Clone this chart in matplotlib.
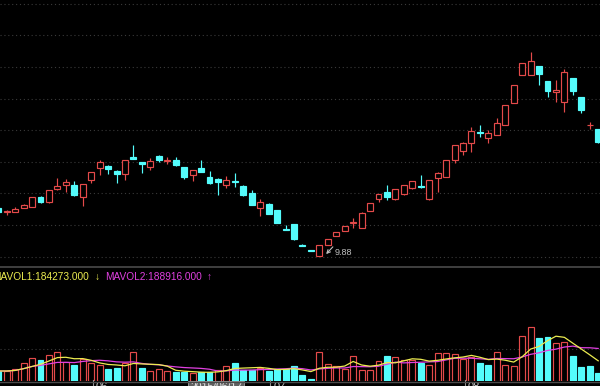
import numpy as np
import pandas as pd
import matplotlib
matplotlib.use("Agg")
import matplotlib.pyplot as plt
from matplotlib import transforms

# ---------------- data ----------------
opens = [11.41, 11.26, 11.27, 11.40, 11.44, 11.74, 11.58, 11.99, 12.13, 12.13,
         11.76, 12.29, 12.65, 12.74, 12.57, 12.49, 13.00, 12.85, 12.70, 13.06,
         12.90, 12.93, 12.69, 12.44, 12.66, 12.39, 12.33, 12.13, 12.24, 12.08,
         11.87, 11.40, 11.54, 11.34, 10.72, 10.88, 10.24, 10.06, 9.88, 10.23,
         10.52, 10.67, 10.91, 10.78, 11.30, 11.68, 11.89, 11.67, 11.83, 12.02,
         12.10, 11.67, 12.34, 12.39, 12.92, 13.21, 13.47, 13.80, 13.60, 13.71,
         14.03, 14.72, 15.61, 15.61, 15.89, 15.42, 15.07, 14.75, 15.51, 14.91,
         14.01, 13.90]
highs = [11.43, 11.34, 11.43, 11.54, 11.75, 11.79, 11.98, 12.34, 12.31, 12.25,
         12.16, 12.55, 12.92, 12.76, 12.59, 12.93, 13.39, 12.85, 12.98, 13.08,
         13.01, 13.01, 12.70, 12.61, 12.92, 12.58, 12.34, 12.40, 12.51, 12.13,
         11.98, 11.67, 11.56, 11.35, 10.85, 10.89, 10.25, 10.07, 10.23, 10.42,
         10.64, 10.84, 11.07, 11.26, 11.56, 11.85, 12.13, 12.00, 12.14, 12.26,
         12.44, 12.30, 12.53, 12.93, 13.40, 13.48, 13.97, 14.03, 13.87, 14.24,
         14.67, 15.30, 16.00, 16.34, 15.90, 15.43, 15.45, 15.80, 15.52, 14.92,
         14.12, 13.91]
lows = [11.24, 11.18, 11.26, 11.39, 11.43, 11.55, 11.56, 11.97, 11.91, 11.79,
        11.46, 12.18, 12.44, 12.49, 12.19, 12.30, 12.94, 12.51, 12.60, 12.85,
        12.78, 12.74, 12.33, 12.25, 12.54, 12.17, 11.81, 12.02, 12.06, 11.79,
        11.48, 11.16, 11.21, 10.92, 10.69, 10.39, 10.21, 10.03, 9.88, 10.22,
        10.51, 10.66, 10.76, 10.77, 11.29, 11.60, 11.64, 11.66, 11.82, 12.01,
        12.04, 11.66, 11.91, 12.38, 12.82, 13.08, 13.18, 13.66, 13.45, 13.70,
        14.02, 14.71, 15.60, 15.60, 15.29, 14.91, 14.75, 14.44, 14.98, 14.41,
        13.90, 13.47]
closes = [11.26, 11.29, 11.38, 11.48, 11.74, 11.60, 11.97, 12.10, 12.23, 11.81,
          12.15, 12.53, 12.84, 12.62, 12.49, 12.92, 12.95, 12.79, 12.89, 12.92,
          12.93, 12.76, 12.39, 12.60, 12.55, 12.18, 12.22, 12.29, 12.21, 11.81,
          11.49, 11.59, 11.22, 10.93, 10.69, 10.42, 10.21, 10.03, 10.23, 10.41,
          10.63, 10.83, 10.97, 11.25, 11.55, 11.84, 11.76, 11.99, 12.13, 12.25,
          12.05, 12.29, 12.52, 12.92, 13.39, 13.47, 13.85, 13.77, 13.76, 14.08,
          14.66, 15.29, 15.99, 16.05, 15.64, 15.10, 15.13, 15.70, 15.10, 14.50,
          14.04, 13.49]
volumes = [100000, 100000, 117000, 177000, 233000, 210000, 263000, 287000, 193000, 160000,
           217000, 177000, 157000, 117000, 133000, 177000, 293000, 133000, 100000, 117000,
           100000, 87000, 87000, 77000, 90000, 93000, 110000, 150000, 183000, 110000,
           110000, 127000, 103000, 120000, 120000, 150000, 60000, 20000, 287000, 170000,
           153000, 117000, 250000, 110000, 110000, 203000, 250000, 237000, 210000, 210000,
           177000, 160000, 277000, 277000, 267000, 217000, 243000, 183000, 160000, 293000,
           160000, 150000, 450000, 543000, 427000, 443000, 377000, 393000, 250000, 137000,
           153000, 77000]
month_labels = ["06", "07", "08"]
month_index = [11, 32, 55]
cursor_date = "2015/06/17"
cursor_index = 23
mavol_texts = ["MAVOL1:184273.000", "MAVOL2:188916.000"]
mavol_arrows = ["\u2193", "\u2191"]

# ---------------- style ----------------
plt.rcParams["font.family"] = ["Liberation Sans", "DejaVu Sans"]
RED = "#e44a4a"
CYAN = "#54fcfc"
YEL = "#ecec50"
MAG = "#e040e0"
GRID = "#3a3a3a"

W, H = 600, 386
fig = plt.figure(figsize=(W / 100, H / 100), dpi=100, facecolor="black")


def fx(px):
    return px / W


def fy(py):
    return 1 - py / H


price_top, price_bot = 0, 267
vol_top, vol_bot = 267, 381
ax = fig.add_axes([0, fy(price_bot), 1, (price_bot - price_top) / H])
axv = fig.add_axes([0, fy(vol_bot), 1, (vol_bot - vol_top) / H])
for a in (ax, axv):
    a.set_facecolor("black")
    a.set_xticks([])
    a.set_yticks([])
    for s in a.spines.values():
        s.set_visible(False)
    a.set_xlim(0.207, 71.213)

ax.set_ylim(9.532, 17.981)
axv.set_ylim(0, 1140000)

o, h, l, c = map(np.array, (opens, highs, lows, closes))
v = np.array(volumes, dtype=float)
n = len(c)
x = np.arange(n)
up = c >= o

# grid lines
for g in np.arange(9.858, 18.0, 1.0):
    ax.axhline(g, color=GRID, lw=0.8, ls=(0, (1, 2.5)), zorder=1)
axv.axhline(325000, color=GRID, lw=0.8, ls=(0, (1, 2.5)), zorder=1)

# candles
cols = np.where(up, RED, CYAN)
ax.vlines(x, l, h, colors=cols, lw=0.85, zorder=2)
body = np.maximum(np.abs(c - o), 0.012)
bottom = np.minimum(o, c)
ax.bar(x[up], body[up], bottom=bottom[up], width=0.7, facecolor="black",
       edgecolor=RED, lw=0.85, zorder=3)
ax.bar(x[~up], body[~up], bottom=bottom[~up], width=0.7, facecolor=CYAN,
       edgecolor=CYAN, lw=0.85, zorder=3)

# low annotation
imin = int(np.argmin(l))
ax.annotate("", xy=(imin + 0.8, l[imin] + 0.06), xytext=(imin + 1.6, l[imin] + 0.29),
            arrowprops=dict(arrowstyle="->", color="#c0c0c0", lw=0.8,
                            shrinkA=0, shrinkB=0, mutation_scale=6))
ax.text(imin + 1.85, l[imin] + 0.12, f"{l[imin]:.2f}", va="center", ha="left",
        fontsize=6.5, color="#c0c0c0")

# volume
prev_c = np.r_[c[0], c[:-1]]
vup = c >= prev_c
vup[0] = up[0]
axv.bar(x[vup], v[vup], width=0.7, facecolor="black", edgecolor=RED, lw=0.85, zorder=2)
axv.bar(x[~vup], v[~vup], width=0.7, facecolor=CYAN, edgecolor=CYAN, lw=0.85, zorder=2)
ma5 = pd.Series(v).rolling(5, min_periods=1).mean()
ma10 = pd.Series(v).rolling(10, min_periods=1).mean()
axv.plot(x, ma10, color=MAG, lw=0.9, zorder=3)
axv.plot(x, ma5, color=YEL, lw=0.9, zorder=4)

# separator lines
fig.add_artist(plt.Line2D([0, 1], [fy(267), fy(267)], color="#4a4a4a", lw=1.2))
fig.add_artist(plt.Line2D([0, 1], [fy(381.5), fy(381.5)], color="#4a4a4a", lw=1.0))

# MAVOL legend texts
ty = fy(276.7)
fig.text(fx(-8), ty, mavol_texts[0], color=YEL, fontsize=7.3, va="center", ha="left")
fig.text(fx(95), ty, mavol_arrows[0], color=YEL, fontsize=7.3, va="center", ha="left")
fig.text(fx(105), ty, mavol_texts[1], color=MAG, fontsize=7.3, va="center", ha="left")
fig.text(fx(207), ty, mavol_arrows[1], color=MAG, fontsize=7.3, va="center", ha="left")

# bottom date axis (cut off by the image edge, as in the reference)
trans = transforms.blended_transform_factory(axv.transData, fig.transFigure)
for lab, idx in zip(month_labels, month_index):
    axv.text(idx + 0.55, fy(381.5), lab, transform=trans, color="#c8c8c8",
             fontsize=8, va="top", ha="left", clip_on=False)
    axv.plot([idx + 0.2, idx + 0.2], [fy(380), fy(386)], transform=trans,
             color="#909090", lw=0.8, clip_on=False)
axv.text(cursor_index - 0.3, fy(382.5), cursor_date, transform=trans, color="#f0f0f0",
         fontsize=7.5, va="top", ha="left", clip_on=False,
         bbox=dict(facecolor="#606060", edgecolor="#a0a0a0", pad=1.2, lw=0.6))

fig.savefig("out.png", dpi=100, facecolor="black")
